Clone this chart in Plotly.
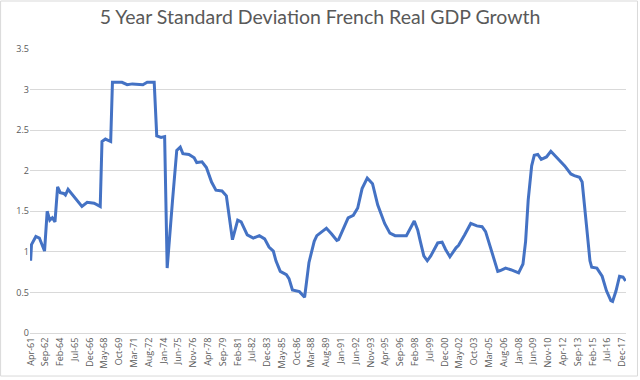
import plotly.graph_objects as go
from datetime import date

title = "5 Year Standard Deviation French Real GDP Growth"

dates = [
    "1961-04", "1961-05", "1961-10", "1962-02", "1962-08", "1962-11", "1963-02", "1963-05",
    "1963-08", "1963-11", "1964-02", "1964-06", "1964-08", "1964-11", "1966-03", "1966-09",
    "1967-05", "1967-12", "1968-02", "1968-06", "1968-12", "1969-02", "1970-01", "1970-07",
    "1971-01", "1972-01", "1972-06", "1973-02", "1973-05", "1973-10", "1974-02", "1974-05",
    "1974-11", "1975-04", "1975-08", "1975-11", "1976-06", "1976-12", "1977-03", "1977-09",
    "1978-02", "1978-08", "1979-01", "1979-08", "1980-01", "1980-04", "1980-08", "1981-02",
    "1981-06", "1982-01", "1982-08", "1983-03", "1983-09", "1984-02", "1984-07", "1984-10",
    "1985-03", "1985-10", "1986-01", "1986-05", "1987-01", "1987-07", "1987-12", "1988-06",
    "1988-09", "1989-03", "1989-08", "1990-02", "1990-08", "1990-10", "1991-03", "1991-09",
    "1992-03", "1992-08", "1993-01", "1993-07", "1994-01", "1994-07", "1995-03", "1995-09",
    "1996-03", "1997-04", "1998-01", "1998-05", "1998-08", "1998-12", "1999-04", "1999-08",
    "2000-04", "2000-09", "2001-01", "2001-06", "2002-01", "2002-04", "2002-11", "2003-06",
    "2004-01", "2004-07", "2004-11", "2005-05", "2006-01", "2006-04", "2006-10", "2007-04",
    "2008-01", "2008-06", "2008-09", "2008-12", "2009-04", "2009-07", "2009-11", "2010-03",
    "2010-09", "2011-02", "2011-08", "2012-06", "2013-01", "2013-05", "2013-11", "2014-02",
    "2014-07", "2014-11", "2015-01", "2015-07", "2016-01", "2016-06", "2016-11", "2017-01",
    "2017-05", "2017-09", "2018-01", "2018-04",
]

std_dev = [
    0.89, 1.09, 1.19, 1.17, 1.01, 1.50, 1.39, 1.42,
    1.37, 1.80, 1.73, 1.72, 1.70, 1.77, 1.56, 1.61,
    1.60, 1.56, 2.36, 2.39, 2.36, 3.09, 3.09, 3.06,
    3.07, 3.06, 3.09, 3.09, 2.43, 2.41, 2.42, 0.80,
    1.62, 2.25, 2.29, 2.21, 2.20, 2.16, 2.10, 2.11,
    2.04, 1.86, 1.76, 1.75, 1.69, 1.48, 1.15, 1.39,
    1.37, 1.21, 1.17, 1.20, 1.16, 1.06, 1.01, 0.89,
    0.76, 0.72, 0.67, 0.53, 0.51, 0.44, 0.87, 1.13,
    1.20, 1.25, 1.29, 1.22, 1.14, 1.15, 1.27, 1.42,
    1.45, 1.54, 1.78, 1.91, 1.84, 1.58, 1.35, 1.23,
    1.20, 1.20, 1.38, 1.27, 1.13, 0.95, 0.89, 0.95,
    1.11, 1.12, 1.03, 0.94, 1.05, 1.08, 1.21, 1.35,
    1.32, 1.31, 1.25, 1.03, 0.76, 0.77, 0.80, 0.78,
    0.74, 0.85, 1.13, 1.64, 2.06, 2.19, 2.20, 2.14,
    2.17, 2.24, 2.17, 2.06, 1.96, 1.94, 1.92, 1.86,
    1.33, 0.89, 0.81, 0.80, 0.70, 0.52, 0.40, 0.39,
    0.52, 0.70, 0.69, 0.64,
]

tick_labels = [
    "Apr-61", "Sep-62", "Feb-64", "Jul-65", "Dec-66", "May-68", "Oct-69", "Mar-71",
    "Aug-72", "Jan-74", "Jun-75", "Nov-76", "Apr-78", "Sep-79", "Feb-81", "Jul-82",
    "Dec-83", "May-85", "Oct-86", "Mar-88", "Aug-89", "Jan-91", "Jun-92", "Nov-93",
    "Apr-95", "Sep-96", "Feb-98", "Jul-99", "Dec-00", "May-02", "Oct-03", "Mar-05",
    "Aug-06", "Jan-08", "Jun-09", "Nov-10", "Apr-12", "Sep-13", "Feb-15", "Jul-16",
    "Dec-17",
]

MONTHS = ["Jan", "Feb", "Mar", "Apr", "May", "Jun", "Jul", "Aug", "Sep", "Oct", "Nov", "Dec"]


def label_to_date(lbl):
    mon, yy = lbl.split("-")
    yy = int(yy)
    year = 1900 + yy if yy >= 50 else 2000 + yy
    return date(year, MONTHS.index(mon) + 1, 1).isoformat()


tick_vals = [label_to_date(t) for t in tick_labels]
x_dates = [d + "-01" for d in dates]

fig = go.Figure()
fig.add_trace(go.Scatter(
    x=x_dates, y=std_dev, mode="lines",
    line=dict(color="#4472C4", width=3),
    hoverinfo="x+y",
))

fig.update_layout(
    width=640, height=380,
    margin=dict(l=30, r=12, t=49, b=44),
    paper_bgcolor="white", plot_bgcolor="white",
    showlegend=False,
    title=dict(text=title, x=0.5, xanchor="center", y=0.955, yanchor="middle",
               font=dict(family="Lato, Open Sans, sans-serif", size=19.5, color="#595959")),
    xaxis=dict(
        type="date",
        range=["1961-03-10", "2018-04-15"],
        tickmode="array", tickvals=tick_vals, ticktext=tick_labels,
        tickangle=-90,
        tickfont=dict(family="Open Sans, sans-serif", size=9, color="#595959"),
        showgrid=False, zeroline=False,
        showline=True, linecolor="#D9D9D9", linewidth=1,
        ticks="",
    ),
    yaxis=dict(
        range=[0, 3.5],
        tickmode="array", tickvals=[0, 0.5, 1, 1.5, 2, 2.5, 3, 3.5],
        ticktext=["0", "0.5", "1", "1.5", "2", "2.5", "3", "3.5"],
        tickfont=dict(family="Open Sans, sans-serif", size=9, color="#595959"),
        showgrid=True, gridcolor="#D9D9D9", gridwidth=1,
        zeroline=False, showline=False, ticks="",
    ),
    shapes=[dict(
        type="rect", xref="paper", yref="paper",
        x0=-29.5 / 598, x1=1 + 11.5 / 598, y0=-43.5 / 287, y1=1 + 48.5 / 287,
        line=dict(color="#D9D9D9", width=1), fillcolor="rgba(0,0,0,0)",
        layer="below",
    )],
)

fig.write_html("out.html", config={"displayModeBar": False},
               post_script="document.body.style.margin='0';")
